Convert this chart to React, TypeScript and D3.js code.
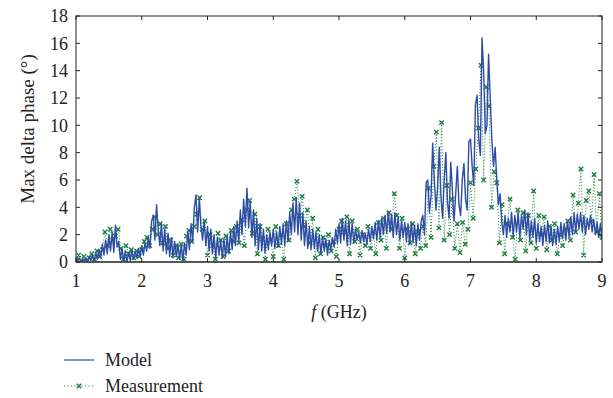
import React from 'react';
import * as d3 from 'd3';

// Model: sampled every 0.025 GHz from 1 to 9 GHz
const modelStep = 0.025;
const modelValues = [
  // 1.0 - 1.975
  0.3, 0.1, 0.3, 0.0, 0.2, 0.1, 0.3, 0.0, 0.4, 0.1,
  0.5, 0.1, 0.7, 0.2, 0.9, 0.3, 1.3, 0.5, 1.6, 0.6,
  2.0, 0.8, 2.2, 0.7, 2.7, 1.1, 1.5, 0.2, 1.0, 0.1,
  0.8, 0.0, 0.7, 0.1, 0.9, 0.2, 0.8, 0.3, 1.0, 0.4,
  // 2.0 - 2.975
  1.2, 0.5, 1.4, 0.8, 1.8, 1.0, 3.0, 3.4, 1.6, 4.2,
  2.4, 1.2, 2.8, 0.8, 2.4, 0.6, 2.1, 0.4, 1.8, 0.3,
  1.5, 0.4, 1.3, 0.2, 1.2, 0.1, 1.4, 0.5, 2.2, 0.9,
  2.8, 1.5, 4.0, 4.9, 2.2, 4.6, 2.6, 1.6, 3.0, 1.2,
  // 3.0 - 3.975
  2.6, 0.8, 2.4, 0.6, 2.0, 0.3, 1.8, 0.5, 1.6, 0.3,
  1.7, 0.4, 1.9, 0.6, 2.2, 0.9, 2.6, 1.2, 3.0, 1.5,
  3.8, 2.0, 4.6, 2.6, 5.4, 2.5, 4.4, 1.8, 3.8, 1.2,
  3.2, 0.9, 2.8, 0.8, 2.4, 0.7, 2.0, 0.9, 2.2, 1.2,
  // 4.0 - 4.975
  2.4, 1.0, 2.2, 1.1, 2.6, 1.3, 2.8, 1.2, 3.0, 1.5,
  3.6, 2.0, 4.3, 2.2, 4.7, 2.0, 4.3, 1.6, 3.6, 1.2,
  3.0, 1.0, 2.6, 0.9, 2.4, 1.0, 2.2, 0.8, 2.0, 0.6,
  1.8, 0.8, 1.7, 0.5, 1.6, 0.9, 1.8, 1.1, 2.4, 1.4,
  // 5.0 - 5.975
  2.8, 1.4, 3.2, 1.6, 3.0, 1.2, 3.1, 1.3, 2.8, 1.4,
  2.4, 1.6, 2.2, 1.4, 2.3, 1.5, 2.1, 1.3, 2.4, 1.5,
  2.6, 1.7, 2.9, 1.6, 3.0, 1.8, 3.2, 2.0, 3.4, 2.1,
  3.7, 2.2, 3.5, 1.8, 3.6, 2.0, 3.3, 1.6, 3.0, 1.8,
  // 6.0 - 6.975
  2.9, 1.5, 2.8, 1.3, 2.9, 1.4, 2.7, 1.2, 2.8, 1.6,
  3.0, 3.4, 2.0, 5.8, 6.0, 3.6, 4.8, 8.7, 6.0, 3.8,
  5.5, 8.4, 4.8, 3.2, 6.0, 8.0, 4.4, 3.2, 7.3, 5.2,
  3.0, 5.0, 7.0, 4.2, 3.4, 6.0, 7.2, 4.6, 3.8, 8.8,
  // 7.0 - 7.975
  9.0, 7.0, 5.6, 11.5, 12.2, 9.0, 7.8, 16.4, 14.0, 9.4,
  10.0, 15.2, 12.0, 8.9, 7.0, 8.4, 6.0, 4.2, 5.0, 3.0,
  2.0, 3.4, 1.8, 3.2, 2.2, 3.6, 1.9, 3.4, 2.2, 3.6,
  1.8, 3.4, 2.4, 3.8, 2.0, 3.6, 1.6, 3.0, 1.8, 3.2,
  // 8.0 - 9.0
  1.4, 2.8, 1.5, 2.6, 1.2, 2.7, 1.5, 3.0, 1.4, 2.6,
  1.2, 2.4, 1.3, 2.6, 1.5, 2.9, 1.7, 2.8, 1.6, 3.0,
  1.8, 3.3, 2.0, 3.6, 2.2, 3.5, 2.4, 3.6, 2.2, 3.4,
  2.0, 3.2, 2.4, 3.4, 2.2, 3.1, 2.0, 2.9, 1.8, 2.8,
  1.6,
];

// Measurement: sampled every 0.04 GHz from 1 to 9 GHz
const measStep = 0.04;
const measValues = [
  // 1.00 - 1.96
  0.2, 0.5, 0.1, 0.4, 0.0, 0.3, 0.6, 0.2, 0.8, 0.4,
  0.9, 2.2, 1.2, 2.4, 1.6, 1.9, 2.4, 1.0, 0.2, 1.2,
  0.6, 0.9, 0.3, 0.8, 0.4,
  // 2.00 - 2.96
  0.9, 1.5, 1.8, 1.2, 2.4, 3.3, 2.0, 2.8, 1.4, 2.6,
  1.0, 1.6, 0.5, 1.2, 0.3, 1.3, 0.2, 1.9, 2.3, 1.5,
  2.6, 3.5, 4.7, 2.4, 3.0,
  // 3.00 - 3.96
  0.5, 2.0, 1.2, 0.2, 2.1, 1.6, 0.4, 1.9, 0.8, 2.3,
  1.5, 2.6, 1.4, 3.1, 1.2, 3.8, 4.5, 2.1, 3.5, 0.6,
  2.6, 1.7, 0.2, 2.4, 1.6,
  // 4.00 - 4.96
  0.4, 2.6, 1.2, 2.0, 0.2, 2.8, 1.6, 3.8, 4.6, 5.9,
  3.4, 4.8, 2.6, 3.8, 1.4, 3.2, 0.3, 2.4, 0.6, 1.8,
  1.2, 2.0, 0.8, 1.5, 0.4,
  // 5.00 - 5.96
  2.4, 3.0, 2.2, 3.3, 0.6, 3.0, 1.5, 2.4, 0.5, 2.0,
  1.2, 2.6, 1.0, 2.2, 0.6, 2.9, 1.6, 3.2, 1.0, 3.6,
  2.4, 5.0, 3.4, 1.0, 3.2,
  // 6.00 - 6.96
  0.3, 2.4, 1.4, 2.8, 0.6, 2.2, 1.0, 2.6, 1.2, 5.4,
  1.8, 7.0, 9.5, 2.5, 10.2, 1.6, 5.6, 2.0, 4.6, 1.0,
  2.8, 0.7, 2.9, 1.3, 2.4,
  // 7.00 - 7.96
  5.8, 3.2, 6.8, 9.8, 14.4, 6.0, 12.8, 11.4, 4.0, 6.6,
  5.8, 1.4, 4.2, 0.6, 2.8, 4.6, 1.8, 0.2, 3.8, 1.6,
  3.6, 0.8, 3.4, 1.4, 5.2,
  // 8.00 - 9.00
  1.0, 3.4, 2.0, 3.3, 0.9, 2.6, 1.6, 2.8, 0.6, 2.0,
  1.2, 2.4, 3.0, 1.6, 4.9, 2.2, 4.3, 6.8, 0.5, 4.5,
  5.2, 3.0, 6.4, 2.2, 5.0, 1.8,
];

const xTicks = [1, 2, 3, 4, 5, 6, 7, 8, 9];
const yTicks = [0, 2, 4, 6, 8, 10, 12, 14, 16, 18];

const modelColor = '#2d4ca6';
const measColor = '#1b7f3b';
const txt = { fontFamily: 'Liberation Serif', fontSize: '18px', fill: '#222' };

const App = () => {
  const width = 613;
  const height = 398;
  const margin = { left: 76, right: 11, top: 16, bottom: 136 };
  const x = d3.scaleLinear().domain([1, 9]).range([margin.left, width - margin.right]);
  const y = d3.scaleLinear().domain([0, 18]).range([height - margin.bottom, margin.top]);

  const modelData = modelValues.map((v, i) => [1 + i * modelStep, v] as [number, number]);
  const measData = measValues.map((v, i) => [1 + i * measStep, v] as [number, number]);

  const line = d3.line<[number, number]>().x(d => x(d[0])).y(d => y(d[1]));

  const x0 = x(1), x1 = x(9), y0 = y(0), y1 = y(18);
  const tick = 4;
  const m = 2.2; // marker half size

  const marker = (cx: number, cy: number, key: string | number, color: string) => (
    <path key={key}
      d={`M${cx - m},${cy - m}L${cx + m},${cy + m}M${cx - m},${cy + m}L${cx + m},${cy - m}`}
      stroke={color} strokeWidth={1.4} fill="none" />
  );

  return (
    <svg width={width} height={height} style={{ position: 'absolute', left: 0, top: 0, background: '#fff' }}>
      <defs>
        <clipPath id="plotClip">
          <rect x={x0} y={y1} width={x1 - x0} height={y0 - y1} />
        </clipPath>
      </defs>

      <g clipPath="url(#plotClip)">
        {/* measurement dotted line + markers */}
        <path d={line(measData) || ''} fill="none" stroke={measColor} strokeWidth={1}
          strokeDasharray="1,2" />
        {measData.map((d, i) => marker(x(d[0]), y(d[1]), i, measColor))}
        {/* model line */}
        <path d={line(modelData) || ''} fill="none" stroke={modelColor} strokeWidth={1.4}
          strokeLinejoin="round" />
      </g>

      {/* frame */}
      <rect x={x0} y={y1} width={x1 - x0} height={y0 - y1} fill="none" stroke="#222" strokeWidth={1} />
      <line x1={x0} x2={x1} y1={y0} y2={y0} stroke="#444" strokeWidth={1.5} />

      {/* x ticks */}
      {xTicks.map(t => (
        <g key={'x' + t}>
          <line x1={x(t)} x2={x(t)} y1={y0} y2={y0 - tick} stroke="#222" />
          <line x1={x(t)} x2={x(t)} y1={y1} y2={y1 + tick} stroke="#222" />
          <text x={x(t)} y={y0 + 25} textAnchor="middle" style={txt}>{t}</text>
        </g>
      ))}

      {/* y ticks */}
      {yTicks.map(t => (
        <g key={'y' + t}>
          <line x1={x0} x2={x0 + tick} y1={y(t)} y2={y(t)} stroke="#222" />
          <line x1={x1} x2={x1 - tick} y1={y(t)} y2={y(t)} stroke="#222" />
          <text x={x0 - 8} y={y(t)} dy="0.35em" textAnchor="end" style={txt}>{t}</text>
        </g>
      ))}

      {/* axis titles */}
      <text x={(x0 + x1) / 2} y={318} textAnchor="middle" style={txt}>
        <tspan fontStyle="italic">f</tspan> (GHz)
      </text>
      <text transform={`translate(34,${(y0 + y1) / 2 - 10}) rotate(-90)`} textAnchor="middle"
        style={{ ...txt, fontSize: '19px' }}>Max delta phase (°)</text>

      {/* legend */}
      <line x1={64} x2={94} y1={360} y2={360} stroke={modelColor} strokeWidth={1.2} />
      <text x={105} y={360} dy="0.35em" style={txt}>Model</text>
      <line x1={64} x2={94} y1={386} y2={386} stroke={measColor} strokeWidth={1} strokeDasharray="1,2.5" />
      {marker(79, 386, 'lm', measColor)}
      <text x={105} y={386} dy="0.35em" style={txt}>Measurement</text>
    </svg>
  );
};

export default App;
